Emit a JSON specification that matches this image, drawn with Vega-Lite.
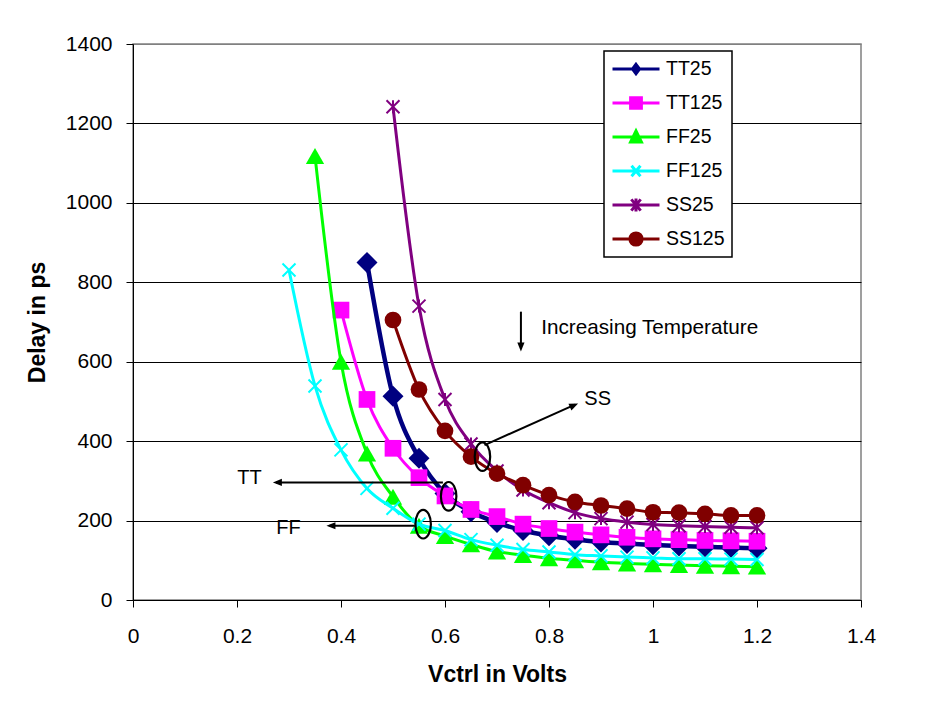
{
  "$schema": "https://vega.github.io/schema/vega-lite/v6.json",
  "width": 728,
  "height": 556,
  "autosize": "none",
  "padding": {"left": 133, "top": 44, "right": 79, "bottom": 106},
  "background": "white",
  "config": {
    "font": "Liberation Sans",
    "view": {"stroke": "#808080", "strokeWidth": 1.5},
    "axis": {"labelColor": "black", "titleColor": "black", "domainColor": "black", "tickColor": "black", "labelFont": "Liberation Sans", "titleFont": "Liberation Sans"}
  },
  "datasets": {
    "curves": [
      {"series": "TT25", "v": 0.45, "delay": 850}, {"series": "TT25", "v": 0.5, "delay": 513}, {"series": "TT25", "v": 0.55, "delay": 357}, {"series": "TT25", "v": 0.6, "delay": 268}, {"series": "TT25", "v": 0.65, "delay": 222}, {"series": "TT25", "v": 0.7, "delay": 195}, {"series": "TT25", "v": 0.75, "delay": 175}, {"series": "TT25", "v": 0.8, "delay": 162}, {"series": "TT25", "v": 0.85, "delay": 153}, {"series": "TT25", "v": 0.9, "delay": 146}, {"series": "TT25", "v": 0.95, "delay": 142}, {"series": "TT25", "v": 1.0, "delay": 139}, {"series": "TT25", "v": 1.05, "delay": 136}, {"series": "TT25", "v": 1.1, "delay": 134}, {"series": "TT25", "v": 1.15, "delay": 132}, {"series": "TT25", "v": 1.2, "delay": 130},
      {"series": "TT125", "v": 0.4, "delay": 730}, {"series": "TT125", "v": 0.45, "delay": 505}, {"series": "TT125", "v": 0.5, "delay": 382}, {"series": "TT125", "v": 0.55, "delay": 308}, {"series": "TT125", "v": 0.6, "delay": 262}, {"series": "TT125", "v": 0.65, "delay": 228}, {"series": "TT125", "v": 0.7, "delay": 210}, {"series": "TT125", "v": 0.75, "delay": 191}, {"series": "TT125", "v": 0.8, "delay": 180}, {"series": "TT125", "v": 0.85, "delay": 171}, {"series": "TT125", "v": 0.9, "delay": 164}, {"series": "TT125", "v": 0.95, "delay": 158}, {"series": "TT125", "v": 1.0, "delay": 154}, {"series": "TT125", "v": 1.05, "delay": 152}, {"series": "TT125", "v": 1.1, "delay": 150}, {"series": "TT125", "v": 1.15, "delay": 149}, {"series": "TT125", "v": 1.2, "delay": 148},
      {"series": "FF25", "v": 0.35, "delay": 1118}, {"series": "FF25", "v": 0.4, "delay": 600}, {"series": "FF25", "v": 0.45, "delay": 369}, {"series": "FF25", "v": 0.5, "delay": 260}, {"series": "FF25", "v": 0.55, "delay": 187}, {"series": "FF25", "v": 0.6, "delay": 161}, {"series": "FF25", "v": 0.65, "delay": 140}, {"series": "FF25", "v": 0.7, "delay": 122}, {"series": "FF25", "v": 0.75, "delay": 113}, {"series": "FF25", "v": 0.8, "delay": 105}, {"series": "FF25", "v": 0.85, "delay": 100}, {"series": "FF25", "v": 0.9, "delay": 95}, {"series": "FF25", "v": 0.95, "delay": 92}, {"series": "FF25", "v": 1.0, "delay": 90}, {"series": "FF25", "v": 1.05, "delay": 88}, {"series": "FF25", "v": 1.1, "delay": 86}, {"series": "FF25", "v": 1.15, "delay": 85}, {"series": "FF25", "v": 1.2, "delay": 84},
      {"series": "FF125", "v": 0.3, "delay": 831}, {"series": "FF125", "v": 0.35, "delay": 539}, {"series": "FF125", "v": 0.4, "delay": 378}, {"series": "FF125", "v": 0.45, "delay": 281}, {"series": "FF125", "v": 0.5, "delay": 231}, {"series": "FF125", "v": 0.55, "delay": 191}, {"series": "FF125", "v": 0.6, "delay": 175}, {"series": "FF125", "v": 0.65, "delay": 152}, {"series": "FF125", "v": 0.7, "delay": 138}, {"series": "FF125", "v": 0.75, "delay": 127}, {"series": "FF125", "v": 0.8, "delay": 121}, {"series": "FF125", "v": 0.85, "delay": 114}, {"series": "FF125", "v": 0.9, "delay": 111}, {"series": "FF125", "v": 0.95, "delay": 108}, {"series": "FF125", "v": 1.0, "delay": 106}, {"series": "FF125", "v": 1.05, "delay": 104}, {"series": "FF125", "v": 1.1, "delay": 104}, {"series": "FF125", "v": 1.15, "delay": 103}, {"series": "FF125", "v": 1.2, "delay": 102},
      {"series": "SS25", "v": 0.5, "delay": 1242}, {"series": "SS25", "v": 0.55, "delay": 740}, {"series": "SS25", "v": 0.6, "delay": 505}, {"series": "SS25", "v": 0.65, "delay": 393}, {"series": "SS25", "v": 0.7, "delay": 325}, {"series": "SS25", "v": 0.75, "delay": 277}, {"series": "SS25", "v": 0.8, "delay": 245}, {"series": "SS25", "v": 0.85, "delay": 220}, {"series": "SS25", "v": 0.9, "delay": 205}, {"series": "SS25", "v": 0.95, "delay": 196}, {"series": "SS25", "v": 1.0, "delay": 190}, {"series": "SS25", "v": 1.05, "delay": 187}, {"series": "SS25", "v": 1.1, "delay": 185}, {"series": "SS25", "v": 1.15, "delay": 183}, {"series": "SS25", "v": 1.2, "delay": 182},
      {"series": "SS125", "v": 0.5, "delay": 705}, {"series": "SS125", "v": 0.55, "delay": 530}, {"series": "SS125", "v": 0.6, "delay": 426}, {"series": "SS125", "v": 0.65, "delay": 361}, {"series": "SS125", "v": 0.7, "delay": 318}, {"series": "SS125", "v": 0.75, "delay": 289}, {"series": "SS125", "v": 0.8, "delay": 264}, {"series": "SS125", "v": 0.85, "delay": 247}, {"series": "SS125", "v": 0.9, "delay": 238}, {"series": "SS125", "v": 0.95, "delay": 230}, {"series": "SS125", "v": 1.0, "delay": 221}, {"series": "SS125", "v": 1.05, "delay": 220}, {"series": "SS125", "v": 1.1, "delay": 217}, {"series": "SS125", "v": 1.15, "delay": 213}, {"series": "SS125", "v": 1.2, "delay": 213}
    ],
    "arrows": [
      {"name": "temp", "v": 0.746, "delay": 726, "v2": 0.746, "delay2": 633},
      {"name": "ss", "v": 0.676, "delay": 390, "v2": 0.85, "delay2": 492},
      {"name": "tt", "v": 0.596, "delay": 296, "v2": 0.275, "delay2": 296},
      {"name": "ff", "v": 0.542, "delay": 187, "v2": 0.378, "delay2": 187}
    ],
    "heads": [
      {"name": "temp", "v": 0.746, "delay": 626},
      {"name": "ss", "v": 0.856, "delay": 495},
      {"name": "tt", "v": 0.269, "delay": 296},
      {"name": "ff", "v": 0.372, "delay": 187}
    ],
    "ellipses": [
      {"name": "ss", "v": 0.672, "delay": 361},
      {"name": "tt", "v": 0.607, "delay": 261},
      {"name": "ff", "v": 0.558, "delay": 191}
    ],
    "notes": [
      {"label": "Increasing Temperature", "v": 0.785, "delay": 685},
      {"label": "SS", "v": 0.868, "delay": 505},
      {"label": "TT", "v": 0.224, "delay": 306},
      {"label": "FF", "v": 0.299, "delay": 182}
    ]
  },
  "encoding": {
    "x": {
      "field": "v", "type": "quantitative",
      "scale": {"domain": [0, 1.4], "nice": false, "zero": false},
      "axis": {"title": "Vctrl in Volts", "values": [0, 0.2, 0.4, 0.6, 0.8, 1, 1.2, 1.4], "format": "~g", "grid": false, "labelFlush": false, "labelOverlap": false, "tickSize": 7, "tickWidth": 1, "domainWidth": 1, "labelFontSize": 21, "labelPadding": 18, "titleFontSize": 23, "titleFontWeight": "bold", "titlePadding": 17}
    },
    "y": {
      "field": "delay", "type": "quantitative",
      "scale": {"domain": [0, 1400], "nice": false},
      "axis": {"title": "Delay in ps", "values": [0, 200, 400, 600, 800, 1000, 1200, 1400], "format": "d", "grid": true, "gridColor": {"condition": {"test": "datum.value >= 1400", "value": "#808080"}, "value": "black"}, "gridWidth": 1, "gridOpacity": 1, "labelOverlap": false, "tickSize": 7, "tickWidth": 1, "domainWidth": 1, "labelFontSize": 21, "labelPadding": 14, "titleFontSize": 23, "titleFontWeight": "bold", "titlePadding": 16}
    }
  },
  "layer": [
    {
      "data": {"name": "curves"},
      "encoding": {
        "color": {
          "field": "series", "type": "nominal",
          "scale": {"domain": ["TT25", "TT125", "FF25", "FF125", "SS25", "SS125"], "range": ["#000080", "#FF00FF", "#00FF00", "#00FFFF", "#800080", "#800000"]},
          "legend": {
            "title": null, "orient": "none", "legendX": 471, "legendY": 7,
            "strokeColor": "black", "padding": 7, "fillColor": "white",
            "symbolSize": 2209, "symbolStrokeWidth": 3, "symbolOffset": 0,
            "labelFontSize": 19.5, "labelFont": "Liberation Sans", "labelColor": "black", "labelOffset": 5, "labelLimit": 200,
            "clipHeight": 22, "rowPadding": 12,
            "encode": {
              "legend": {"update": {"strokeWidth": {"value": 1.5}}},
              "symbols": {"update": {
                "shape": {"signal": "datum.value === 'TT25' ? 'M-1,0H1M0,-0.2L0.15,0L0,0.2L-0.15,0Z' : datum.value === 'TT125' ? 'M-1,0H1M-0.23,-0.22H0.23V0.22H-0.23Z' : datum.value === 'FF25' ? 'M-1,0H1M0,-0.26L0.23,0.21L-0.23,0.21Z' : datum.value === 'FF125' ? 'M-1,0H1M-0.19,-0.22L0.19,0.22M-0.19,0.22L0.19,-0.22' : datum.value === 'SS25' ? 'M-1,0H1M-0.2,-0.24L0.2,0.24M-0.2,0.24L0.2,-0.24M0,-0.28V0.28' : 'M-1,0H1M-0.26,0A0.26,0.26 0 1,1 0.26,0A0.26,0.26 0 1,1 -0.26,0Z'"},
                "fill": {"signal": "datum.value === 'FF125' || datum.value === 'SS25' ? 'transparent' : scale('color', datum.value)"},
                "stroke": {"signal": "scale('color', datum.value)"},
                "strokeWidth": {"value": 3},
                "opacity": {"value": 1}
              }}
            }
          }
        }
      },
      "layer": [
        {"transform": [{"filter": "datum.series === 'TT25'"}], "mark": {"type": "line", "interpolate": "monotone", "strokeWidth": 4.5}},
        {"transform": [{"filter": "datum.series === 'TT25'"}], "mark": {"type": "point", "shape": "diamond", "filled": true, "size": 441, "opacity": 1}},
        {"transform": [{"filter": "datum.series === 'TT125'"}], "mark": {"type": "line", "interpolate": "monotone", "strokeWidth": 3}},
        {"transform": [{"filter": "datum.series === 'TT125'"}], "mark": {"type": "point", "shape": "square", "filled": true, "size": 279, "opacity": 1}},
        {"transform": [{"filter": "datum.series === 'FF25'"}], "mark": {"type": "line", "interpolate": "monotone", "strokeWidth": 3}},
        {"transform": [{"filter": "datum.series === 'FF25'"}], "mark": {"type": "point", "shape": "triangle-up", "filled": true, "size": 335, "opacity": 1}},
        {"transform": [{"filter": "datum.series === 'FF125'"}], "mark": {"type": "line", "interpolate": "monotone", "strokeWidth": 3}},
        {"transform": [{"filter": "datum.series === 'FF125'"}], "mark": {"type": "point", "shape": "M-1,-1L1,1M-1,1L1,-1", "filled": false, "size": 169, "strokeWidth": 2, "opacity": 1}},
        {"transform": [{"filter": "datum.series === 'SS25'"}], "mark": {"type": "line", "interpolate": "monotone", "strokeWidth": 3}},
        {"transform": [{"filter": "datum.series === 'SS25'"}], "mark": {"type": "point", "shape": "M-1,-1L1,1M-1,1L1,-1M0,-1L0,1", "filled": false, "size": 169, "strokeWidth": 2, "opacity": 1}},
        {"transform": [{"filter": "datum.series === 'SS125'"}], "mark": {"type": "line", "interpolate": "monotone", "strokeWidth": 3}},
        {"transform": [{"filter": "datum.series === 'SS125'"}], "mark": {"type": "point", "shape": "circle", "filled": true, "size": 279, "opacity": 1}}
      ]
    },
    {
      "data": {"name": "arrows"},
      "mark": {"type": "rule", "color": "black", "strokeWidth": 2},
      "encoding": {"x2": {"field": "v2"}, "y2": {"field": "delay2"}}
    },
    {
      "data": {"name": "heads"},
      "transform": [{"filter": "datum.name === 'temp'"}],
      "mark": {"type": "point", "shape": "M0,0L-2,-0.8L-2,0.8Z", "filled": true, "color": "black", "size": 81, "opacity": 1, "angle": 90}
    },
    {
      "data": {"name": "heads"},
      "transform": [{"filter": "datum.name === 'ss'"}],
      "mark": {"type": "point", "shape": "M0,0L-2,-0.8L-2,0.8Z", "filled": true, "color": "black", "size": 81, "opacity": 1, "angle": -24.3}
    },
    {
      "data": {"name": "heads"},
      "transform": [{"filter": "datum.name === 'tt' || datum.name === 'ff'"}],
      "mark": {"type": "point", "shape": "M0,0L-2,-0.8L-2,0.8Z", "filled": true, "color": "black", "size": 81, "opacity": 1, "angle": 180}
    },
    {
      "data": {"name": "ellipses"},
      "mark": {"type": "point", "shape": "M0,-1.85A1,1.85 0 1,1 0,1.85A1,1.85 0 1,1 0,-1.85Z", "filled": false, "color": "black", "size": 240, "strokeWidth": 2.2, "opacity": 1}
    },
    {
      "data": {"name": "notes"},
      "transform": [{"filter": "datum.label === 'Increasing Temperature'"}],
      "mark": {"type": "text", "align": "left", "baseline": "middle", "font": "Liberation Sans", "fontSize": 20.7, "color": "black"},
      "encoding": {"text": {"field": "label"}}
    },
    {
      "data": {"name": "notes"},
      "transform": [{"filter": "datum.label === 'SS'"}],
      "mark": {"type": "text", "align": "left", "baseline": "middle", "font": "Liberation Sans", "fontSize": 20, "color": "black"},
      "encoding": {"text": {"field": "label"}}
    },
    {
      "data": {"name": "notes"},
      "transform": [{"filter": "datum.label === 'TT' || datum.label === 'FF'"}],
      "mark": {"type": "text", "align": "center", "baseline": "middle", "font": "Liberation Sans", "fontSize": 20, "color": "black"},
      "encoding": {"text": {"field": "label"}}
    }
  ]
}
